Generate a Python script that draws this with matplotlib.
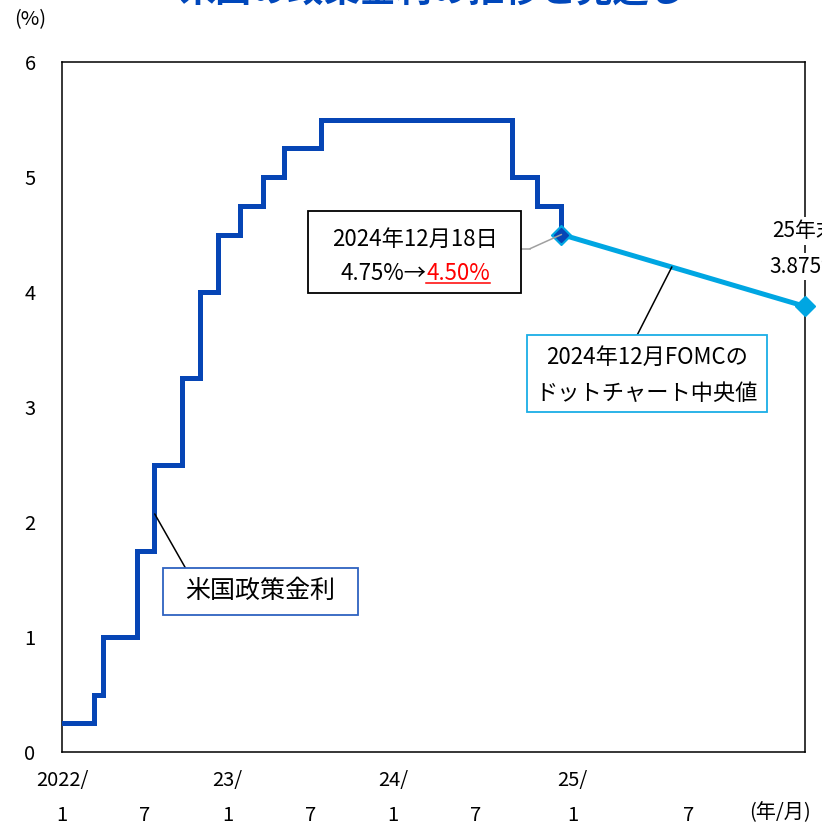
import matplotlib
matplotlib.use('Agg')
import matplotlib.pyplot as plt
from matplotlib.patches import Rectangle

plt.rcParams['font.family'] = ['Noto Sans CJK JP', 'DejaVu Sans']

# x positions are months counted from 2022/1
change_months = [0, 2.35, 3.0, 5.4, 6.7, 8.7, 10.0, 11.3, 12.9, 14.6, 16.1, 18.8, 32.6, 34.4, 36.2]
policy_rate = [0.25, 0.5, 1.0, 1.75, 2.5, 3.25, 4.0, 4.5, 4.75, 5.0, 5.25, 5.5, 5.0, 4.75, 4.5]

# dot chart median path (Dec 2024 -> end of 2025)
dot_months = [36.2, 53.85]
dot_rate = [4.5, 3.875]

year_labels = ['2022/', '23/', '24/', '25/']
year_pos = [0, 12, 24, 37]
month_labels = ['1', '7', '1', '7', '1', '7', '1', '7']
month_pos = [0, 6, 12, 18, 24, 30, 37, 45.4]

dark_blue = '#0645b5'
light_blue = '#00a6e2'

fig = plt.figure(figsize=(8.22, 8.25), dpi=100)
ax = fig.add_axes([62/822, 1 - 752/825, 743/822, 690/825])

ax.plot(change_months, policy_rate, drawstyle='steps-post', color=dark_blue, lw=3.6, zorder=4,
        solid_joinstyle='miter')
ax.plot(dot_months, dot_rate, color=light_blue, lw=3.6, zorder=4)
ax.plot(dot_months, dot_rate, ls='none', marker='D', ms=10, color=light_blue, zorder=5, clip_on=False)
ax.plot(dot_months[:1], dot_rate[:1], ls='none', marker='D', ms=7, color=dark_blue, zorder=6)

ax.set_xlim(0, dot_months[-1])
ax.set_ylim(0, 6)
ax.set_yticks(range(7))
ax.set_xticks([])
ax.tick_params(axis='y', length=0, pad=19, labelsize=14.5)
for s in ax.spines.values():
    s.set_linewidth(1.1)
    s.set_color('black')

# x-axis labels
tr = ax.get_xaxis_transform()
for lab, p in zip(year_labels, year_pos):
    ax.text(p, -0.041, lab, transform=tr, ha='center', va='center', fontsize=14.5, clip_on=False)
for lab, p in zip(month_labels, month_pos):
    ax.text(p, -0.092, lab, transform=tr, ha='center', va='center', fontsize=14.5, clip_on=False)
fig.text(780/822, 1 - 813/825, '(年/月)', ha='center', va='center', fontsize=14.5)
fig.text(30/822, 1 - 20/825, '(%)', ha='center', va='center', fontsize=14.5)

# title (cut off at the top edge, as in the source)
fig.text(432/822, 1.011, '米国の政策金利の推移と見通し', ha='center', va='center',
         fontsize=26, weight='bold', color='#0047bb')

# box: 米国政策金利
ax.add_patch(Rectangle((0.136, 0.199), 0.262, 0.068, transform=ax.transAxes,
                       fc='white', ec='#2e62c0', lw=1.3, zorder=7))
ax.text(0.267, 0.233, '米国政策金利', transform=ax.transAxes, ha='center', va='center',
        fontsize=18, zorder=8)
ax.annotate('', xy=(6.72, 2.07), xytext=(0.166, 0.267), textcoords='axes fraction',
            arrowprops=dict(arrowstyle='-', color='black', lw=1.1, shrinkA=0, shrinkB=0), zorder=6)

# box: 2024年12月18日
ax.add_patch(Rectangle((0.331, 0.665), 0.287, 0.119, transform=ax.transAxes,
                       fc='white', ec='black', lw=1.3, zorder=7))
ax.text(0.4745, 0.743, '2024年12月18日', transform=ax.transAxes, ha='center', va='center',
        fontsize=16, zorder=8)
split = (426 - 62) / 743
ax.text(split, 0.693, '4.75%→', transform=ax.transAxes, ha='right', va='center',
        fontsize=16, zorder=8)
red_txt = ax.text(split, 0.693, '4.50%', transform=ax.transAxes, ha='left', va='center',
                  fontsize=16, color='#ff0000', zorder=8)
ax.plot([0.618, 0.630], [0.7295, 0.7295], transform=ax.transAxes, color='#a0a0a0', lw=1.1,
        zorder=6, clip_on=False)
ax.annotate('', xy=(dot_months[0], dot_rate[0]), xytext=(0.630, 0.7295), textcoords='axes fraction',
            arrowprops=dict(arrowstyle='-', color='#a0a0a0', lw=1.1, shrinkA=0, shrinkB=0), zorder=6)

# box: dot chart median
ax.add_patch(Rectangle((0.626, 0.493), 0.323, 0.111, transform=ax.transAxes,
                       fc='white', ec='#1aaee6', lw=1.3, zorder=7))
ax.text(0.7875, 0.572, '2024年12月FOMCの', transform=ax.transAxes, ha='center', va='center',
        fontsize=16, zorder=8)
ax.text(0.7875, 0.520, 'ドットチャート中央値', transform=ax.transAxes, ha='center', va='center',
        fontsize=16, zorder=8)
ax.annotate('', xy=(44.2, 4.218), xytext=(0.774, 0.604), textcoords='axes fraction',
            arrowprops=dict(arrowstyle='-', color='black', lw=1.1, shrinkA=0, shrinkB=0), zorder=6)

# end-of-2025 label
ax.text(dot_months[-1], 4.53, '25年末', ha='center', va='center', fontsize=15, zorder=8,
        clip_on=False, bbox=dict(fc='white', ec='none', pad=2))
ax.text(dot_months[-1], 4.22, '3.875%', ha='center', va='center', fontsize=15, zorder=8,
        clip_on=False, bbox=dict(fc='white', ec='none', pad=2))

# underline the red value
fig.canvas.draw()
bb = red_txt.get_window_extent().transformed(ax.transAxes.inverted())
ax.plot([bb.x0, bb.x1], [bb.y0 + 0.003, bb.y0 + 0.003], transform=ax.transAxes,
        color='#ff0000', lw=1.1, zorder=8)

fig.savefig('out.png', dpi=100)
